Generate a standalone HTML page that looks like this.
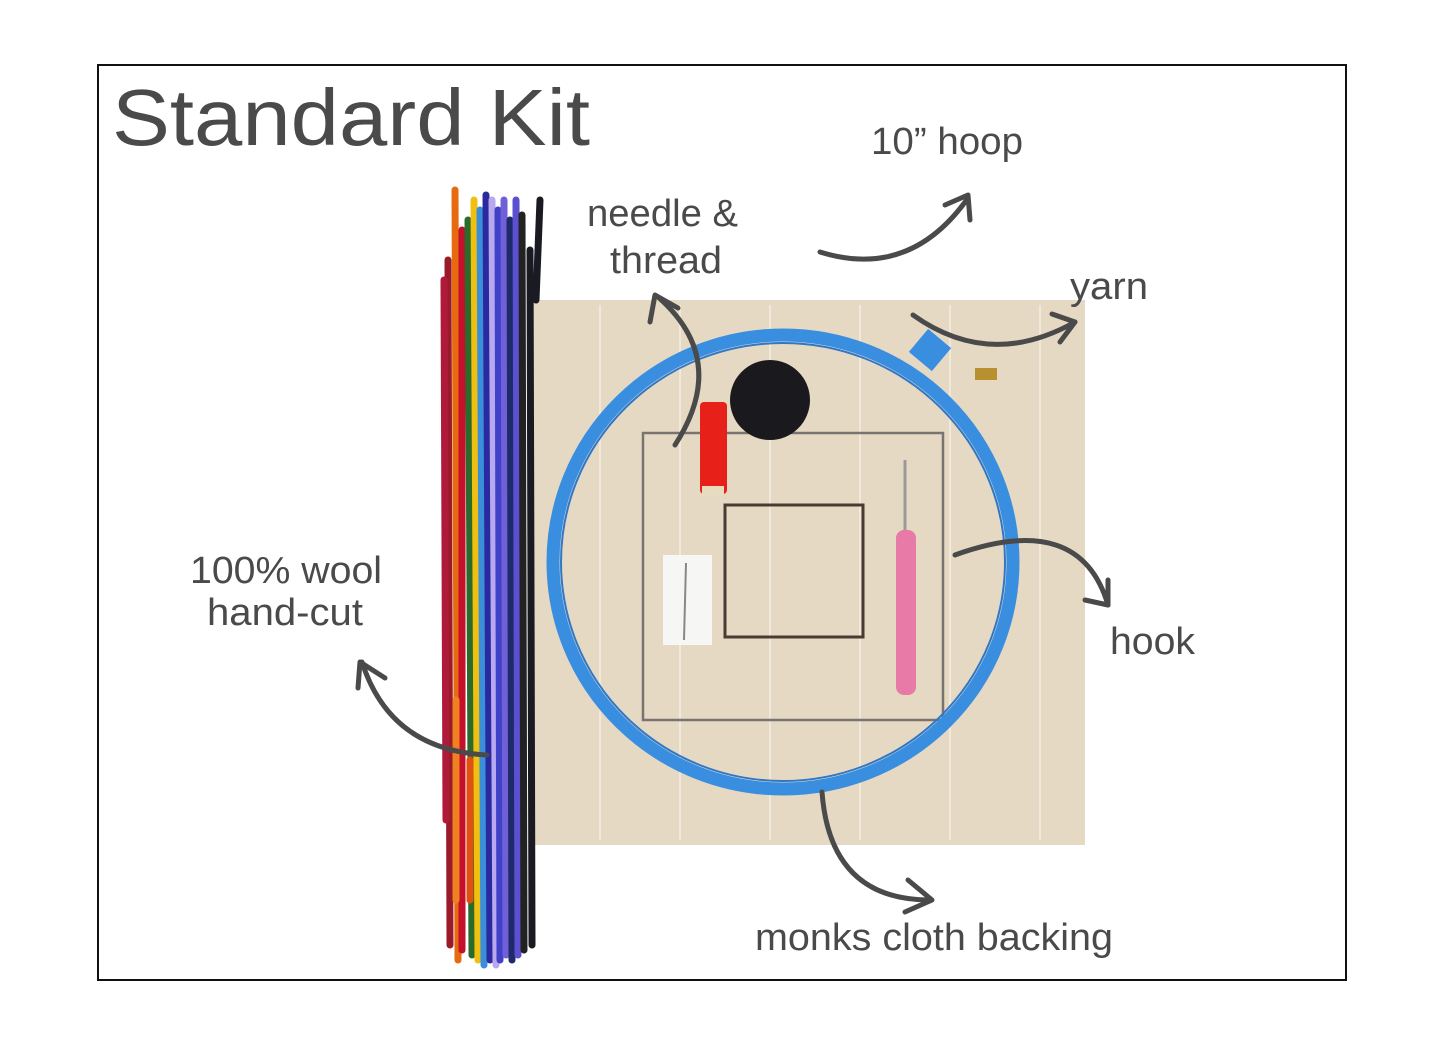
<!DOCTYPE html>
<html><head><meta charset="utf-8"><style>
html,body{margin:0;padding:0;background:#fff;width:1445px;height:1046px;overflow:hidden}
svg{display:block}
text{font-family:"Liberation Sans",sans-serif;fill:#4a4a4a}
</style></head><body>
<svg width="1445" height="1046" viewBox="0 0 1445 1046" xmlns="http://www.w3.org/2000/svg">
<rect x="98" y="65" width="1248" height="915" fill="#fff" stroke="#111" stroke-width="2"/>
<text x="112" y="145" font-size="80" textLength="478" lengthAdjust="spacingAndGlyphs">Standard Kit</text>
<!-- cloth -->
<rect x="530" y="300" width="555" height="545" fill="#e6d9c4"/>
<g stroke="#f5efe4" stroke-width="2" opacity="0.7">
<line x1="600" y1="305" x2="600" y2="840"/><line x1="680" y1="305" x2="680" y2="840"/><line x1="770" y1="305" x2="770" y2="840"/><line x1="860" y1="305" x2="860" y2="840"/><line x1="950" y1="305" x2="950" y2="840"/><line x1="1040" y1="305" x2="1040" y2="840"/>
</g>
<rect x="643" y="433" width="300" height="287" fill="none" stroke="#7a7470" stroke-width="2.5"/>
<rect x="725" y="505" width="138" height="132" fill="none" stroke="#4b3a32" stroke-width="3"/>
<!-- yarn bundle -->
<g stroke-width="7" fill="none" stroke-linecap="round">
<path d="M448 260 L450 945" stroke="#9a1a2a"/>
<path d="M455 190 L458 960" stroke="#e86a10"/>
<path d="M462 230 L462 950" stroke="#c4102a"/>
<path d="M468 220 L472 955" stroke="#2a6a2a"/>
<path d="M474 200 L478 960" stroke="#f0c010"/>
<path d="M480 210 L484 965" stroke="#3b8fd8"/>
<path d="M486 195 L490 960" stroke="#2a2aa0"/>
<path d="M492 200 L496 965" stroke="#b8a8ee"/>
<path d="M498 210 L500 960" stroke="#4040c8"/>
<path d="M504 200 L506 955" stroke="#7060d8"/>
<path d="M510 220 L512 960" stroke="#1e2a6a"/>
<path d="M516 200 L518 955" stroke="#5a50d0"/>
<path d="M522 215 L524 950" stroke="#222"/>
<path d="M530 250 L532 945" stroke="#1a1a22"/>
<path d="M540 200 L536 300" stroke="#1a1a22"/>
<path d="M444 280 L446 820" stroke="#b01a3a"/>
<path d="M456 700 L456 900" stroke="#f08020"/>
<path d="M470 760 L470 900" stroke="#e05010"/>
</g>
<!-- hoop -->
<ellipse cx="783" cy="562" rx="230" ry="227" fill="none" stroke="#3a8ee0" stroke-width="13"/>
<ellipse cx="783" cy="562" rx="222" ry="219" fill="none" stroke="#2f78c8" stroke-width="2"/>
<rect x="915" y="335" width="30" height="30" fill="#3a8ee0" transform="rotate(40 930 350)"/>
<rect x="975" y="368" width="22" height="12" fill="#b89030"/>
<!-- yarn ball, spool, hook, needle -->
<circle cx="770" cy="400" r="40" fill="#1a1a1e"/>
<rect x="700" y="402" width="27" height="92" rx="4" fill="#e8201a"/>
<rect x="702" y="486" width="22" height="10" fill="#e8dcc0"/>
<rect x="663" y="555" width="49" height="90" fill="#f6f6f4"/>
<line x1="686" y1="563" x2="684" y2="640" stroke="#888" stroke-width="2"/>
<line x1="905" y1="460" x2="905" y2="530" stroke="#999" stroke-width="3"/>
<rect x="896" y="530" width="20" height="165" rx="8" fill="#e87aa8"/>
<!-- arrows -->
<g stroke="#4a4a4a" stroke-width="5" fill="none" stroke-linecap="round" stroke-linejoin="round">
<path d="M820 252 Q910 280 968 198"/><path d="M945 205 L968 195 L970 220"/>
<path d="M913 315 Q990 370 1075 322"/><path d="M1052 314 L1075 322 L1060 342"/>
<path d="M675 445 Q730 360 658 297"/><path d="M650 322 L655 295 L678 308"/>
<path d="M955 555 Q1080 510 1108 605"/><path d="M1085 600 L1108 605 L1108 580"/>
<path d="M487 755 Q390 750 362 662"/><path d="M358 688 L360 662 L385 678"/>
<path d="M822 792 Q830 900 930 900"/><path d="M908 880 L932 900 L905 912"/>
</g>
<g font-size="38">
<text x="871" y="154" textLength="152" lengthAdjust="spacingAndGlyphs">10” hoop</text>
<text x="587" y="226" textLength="151" lengthAdjust="spacingAndGlyphs">needle &amp;</text>
<text x="610" y="273" textLength="112" lengthAdjust="spacingAndGlyphs">thread</text>
<text x="1070" y="299" textLength="78" lengthAdjust="spacingAndGlyphs">yarn</text>
<text x="1110" y="654" textLength="85" lengthAdjust="spacingAndGlyphs">hook</text>
<text x="190" y="583" textLength="192" lengthAdjust="spacingAndGlyphs">100% wool</text>
<text x="207" y="625" textLength="156" lengthAdjust="spacingAndGlyphs">hand-cut</text>
<text x="755" y="950" textLength="358" lengthAdjust="spacingAndGlyphs">monks cloth backing</text>
</g>
</svg>
</body></html>
